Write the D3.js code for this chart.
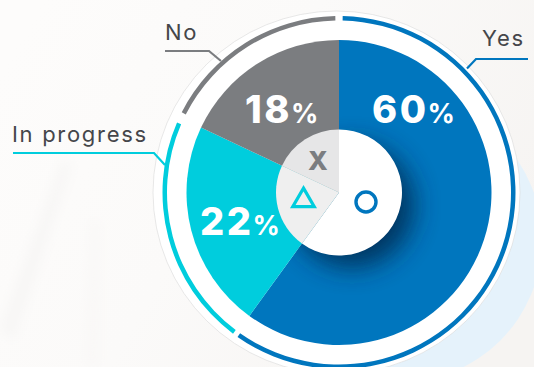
<!DOCTYPE html>
<html>
<head>
<meta charset="utf-8">
<style>
html,body{margin:0;padding:0;background:#f8f7f5;overflow:hidden}
svg{display:block}
</style>
<script src="https://cdn.jsdelivr.net/npm/d3@7"></script>
</head>
<body>
<div id="chart"></div>
<script>
const categories = ["Yes", "In progress", "No"];
const values = [60, 22, 18];
const colors = ["#0076be", "#00cddd", "#7b7d80"];
const hubFills = ["#ffffff", "#efefef", "#e6e6e7"];

const width = 534, height = 367;
const cx = 339, cy = 192.5;
const font = "Inter, 'Open Sans', sans-serif";

const svg = d3.select("#chart").append("svg").attr("width", width).attr("height", height);
const defs = svg.append("defs");

const bg = defs.append("linearGradient").attr("id", "bg")
  .attr("x1", 0).attr("y1", 0.2).attr("x2", 1).attr("y2", 0.6);
bg.append("stop").attr("offset", 0).attr("stop-color", "#fdfcfb");
bg.append("stop").attr("offset", 0.45).attr("stop-color", "#fbfaf9");
bg.append("stop").attr("offset", 1).attr("stop-color", "#f6f4f2");
const blurLarge = defs.append("filter").attr("id", "soft")
  .attr("x", "-60%").attr("y", "-40%").attr("width", "220%").attr("height", "180%");
blurLarge.append("feGaussianBlur").attr("stdDeviation", 6);

svg.append("rect").attr("width", width).attr("height", height).attr("fill", "url(#bg)");
// Faint diagonal streaks in the backdrop
svg.append("path").attr("d", "M0,330 L62,160 L72,165 L14,340 Z")
  .attr("fill", "#f7f6f5").attr("filter", "url(#soft)");
svg.append("path").attr("d", "M85,367 L90,220 L100,220 L100,367 Z")
  .attr("fill", "#f9f8f7").attr("filter", "url(#soft)");

// Pale disc sitting behind the chart, shifted to the lower right
svg.append("circle").attr("cx", 400).attr("cy", 240).attr("r", 142).attr("fill", "#e5f2fb");

// White plate with a thin grey rim
svg.append("ellipse").attr("cx", cx - 2.5).attr("cy", cy).attr("rx", 183.5).attr("ry", 181.5)
  .attr("fill", "#ffffff").attr("stroke", "#d9d9d9").attr("stroke-width", 0.6);

const pie = d3.pie().sort(null).value(d => d.value).startAngle(0).endAngle(2 * Math.PI);
const rows = categories.map((name, i) => ({
  name, value: values[i], color: colors[i], hub: hubFills[i]
}));
const arcs = pie(rows);

const g = svg.append("g").attr("transform", `translate(${cx},${cy})`);

const wedge = d3.arc().innerRadius(0).outerRadius(152.5);
g.selectAll("path.wedge").data(arcs).join("path")
  .attr("class", "wedge").attr("d", wedge).attr("fill", d => d.data.color);

// Shadow thrown by the hub, visible on the largest wedge only
defs.append("clipPath").attr("id", "firstWedge").append("path").attr("d", wedge(arcs[0]));
const shadow = defs.append("filter").attr("id", "hubShadow")
  .attr("x", "-60%").attr("y", "-60%").attr("width", "220%").attr("height", "220%");
shadow.append("feGaussianBlur").attr("stdDeviation", 13);
g.append("g").attr("clip-path", "url(#firstWedge)")
  .append("circle").attr("cx", 13).attr("cy", 13).attr("r", 62)
  .attr("fill", "#00294f").attr("opacity", 0.85).attr("filter", "url(#hubShadow)");

// Outer ring segments
const deg = d3.scaleLinear().domain([0, 360]).range([0, 2 * Math.PI]);
const ringGap = [deg(1.2), deg(0.9), deg(1.8)];
const ring = d3.arc().innerRadius(172).outerRadius(176.5);
g.selectAll("path.ring").data(arcs).join("path")
  .attr("class", "ring")
  .attr("d", (d, i) => ring({ startAngle: d.startAngle + ringGap[i], endAngle: d.endAngle - ringGap[(i + 1) % 3] }))
  .attr("fill", d => d.data.color);

// Central hub, divided along the same angles as the wedges
const hub = d3.arc().innerRadius(0).outerRadius(63);
g.selectAll("path.hub").data(arcs).join("path")
  .attr("class", "hub").attr("d", hub).attr("fill", d => d.data.hub);

// Leader lines from each ring segment to its label
const leaders = [
  [[528, 59], [476, 59], [467, 68.5]],
  [[13, 153], [154, 153], [165, 165]],
  [[165, 51], [209, 51], [221, 61]]
];
const line = d3.line();
svg.selectAll("path.leader").data(arcs).join("path")
  .attr("class", "leader")
  .attr("d", (d, i) => line(leaders[i]))
  .attr("fill", "none").attr("stroke", d => d.data.color).attr("stroke-width", 2.2);

// Category labels
const labelPos = [[482, 46], [12, 142], [165, 40]];
svg.selectAll("text.cat").data(categories).join("text")
  .attr("class", "cat")
  .attr("x", (d, i) => labelPos[i][0]).attr("y", (d, i) => labelPos[i][1])
  .attr("font-family", font).attr("font-size", 22).attr("letter-spacing", 1.7)
  .attr("fill", "#45464a").text(d => d);

// Percentage labels, in the same order as the values
const pctPos = [[372, 123], [200, 235], [245, 123]];
const pct = svg.selectAll("text.pct").data(values).join("text")
  .attr("class", "pct")
  .attr("x", (d, i) => pctPos[i][0]).attr("y", (d, i) => pctPos[i][1])
  .attr("font-family", font).attr("fill", "#ffffff");
pct.append("tspan").attr("font-size", 38).attr("font-weight", 800).attr("letter-spacing", 2.5).text(d => d);
pct.append("tspan").attr("font-size", 27).attr("font-weight", 700).attr("dx", -1).text("%");

// Hub symbols
svg.append("circle").attr("cx", 366).attr("cy", 202).attr("r", 10)
  .attr("fill", "none").attr("stroke", colors[0]).attr("stroke-width", 3.4);
const triangle = d3.symbol().type(d3.symbolTriangle).size(200);
svg.append("path").attr("d", triangle())
  .attr("transform", "translate(303.5,200.5)")
  .attr("fill", "none").attr("stroke", colors[1]).attr("stroke-width", 3.2);
svg.append("text").attr("x", 318).attr("y", 170).attr("text-anchor", "middle")
  .attr("font-family", font).attr("font-weight", 800)
  .attr("font-size", 26).attr("fill", colors[2]).text("X");
</script>
</body>
</html>
